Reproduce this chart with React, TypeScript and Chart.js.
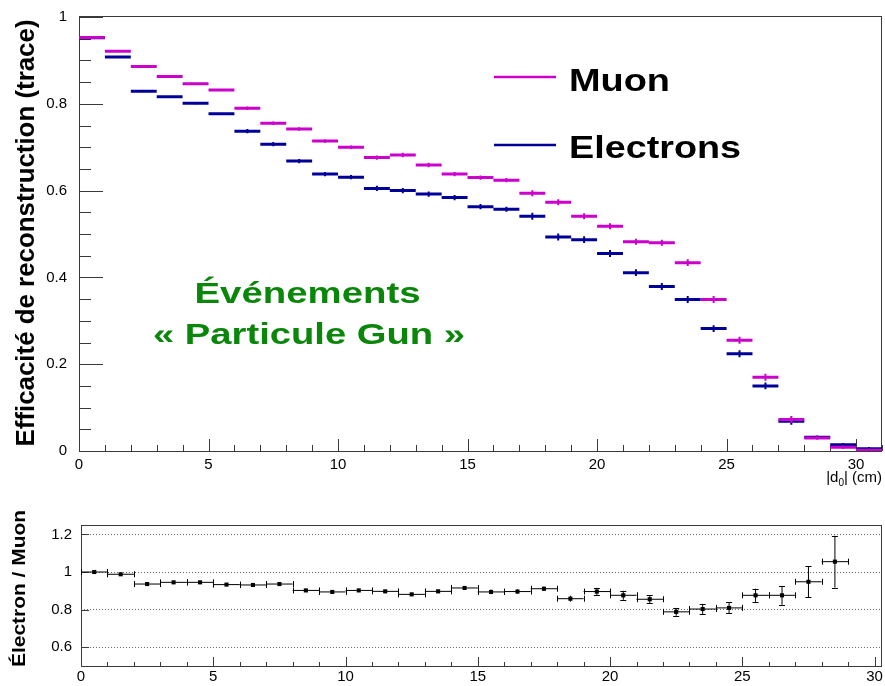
import React, { useEffect, useRef } from "react";
import { Chart, registerables } from "chart.js";

Chart.register(...registerables);

// ---------- data ----------
const binEdges = [0, 1, 2, 3, 4, 5, 6, 7, 8, 9, 10, 11, 12, 13, 14, 15, 16, 17, 18, 19, 20, 21, 22, 23, 24, 25, 26, 27, 28, 29, 30, 31];

const muonEff = [
  0.953, 0.921, 0.886, 0.863, 0.846, 0.832, 0.79, 0.755, 0.742, 0.714, 0.7,
  0.676, 0.682, 0.659, 0.638, 0.63, 0.624, 0.594, 0.573, 0.541, 0.518,
  0.482, 0.48, 0.434, 0.349, 0.255, 0.17, 0.0725, 0.03, 0.0085, 0.002,
];
const muonErr = [
  0.002, 0.002, 0.002, 0.002, 0.002, 0.002, 0.004, 0.004, 0.004, 0.004, 0.004,
  0.005, 0.005, 0.005, 0.005, 0.005, 0.005, 0.007, 0.007, 0.007, 0.007,
  0.007, 0.007, 0.008, 0.008, 0.008, 0.008, 0.008, 0.004, 0.004, 0.004,
];
const electronEff = [
  0.952, 0.908, 0.829, 0.816, 0.801, 0.777, 0.737, 0.707, 0.668, 0.638, 0.631,
  0.605, 0.6, 0.592, 0.584, 0.563, 0.557, 0.541, 0.493, 0.487, 0.455,
  0.411, 0.379, 0.349, 0.282, 0.224, 0.15, 0.0687, 0.0317, 0.0145, 0.005,
];
const electronErr = [
  0.002, 0.002, 0.002, 0.002, 0.002, 0.002, 0.005, 0.005, 0.005, 0.005, 0.005,
  0.006, 0.006, 0.006, 0.006, 0.006, 0.006, 0.008, 0.008, 0.008, 0.008,
  0.008, 0.008, 0.008, 0.008, 0.008, 0.008, 0.008, 0.004, 0.004, 0.004,
];
const ratioVals = [
  1.0, 0.988, 0.936, 0.945, 0.945, 0.933, 0.931, 0.936, 0.902, 0.894, 0.902,
  0.897, 0.881, 0.897, 0.915, 0.894, 0.896, 0.911, 0.858, 0.896, 0.876,
  0.855, 0.788, 0.803, 0.809, 0.876, 0.876, 0.948, 1.055,
];
const ratioErr = [
  0.004, 0.005, 0.006, 0.006, 0.006, 0.006, 0.007, 0.007, 0.008, 0.008, 0.008,
  0.008, 0.009, 0.009, 0.01, 0.012, 0.012, 0.012, 0.016, 0.02, 0.024,
  0.021, 0.021, 0.027, 0.029, 0.035, 0.05, 0.082, 0.138,
];
const seriesNames = ["Muon", "Electrons"];
const annotationLines = ["Événements", "« Particule Gun »"];
const yTitleTop = "Efficacité de reconstruction (trace)";
const yTitleBottom = "Électron / Muon";

// ---------- styles ----------
const FONT = "'Liberation Sans', Arial, Helvetica, sans-serif";
const MAGENTA = "#cc00cc";
const NAVY = "#000099";
const GREEN = "#0a870a";
const FRAME = "#3a3a3a";

function center(i: number) {
  return (binEdges[i] + binEdges[i + 1]) / 2;
}
function histSteps(vals: number[]) {
  const pts: any[] = [];
  vals.forEach((v, i) => {
    pts.push({ x: binEdges[i], y: v }, { x: binEdges[i + 1], y: v }, { x: binEdges[i + 1], y: null });
  });
  return pts;
}
function vErrors(vals: number[], errs: number[]) {
  const pts: any[] = [];
  vals.forEach((v, i) => {
    const c = center(i);
    pts.push({ x: c, y: v - errs[i] }, { x: c, y: v + errs[i] }, { x: c, y: null });
  });
  return pts;
}

function stretchText(ctx: CanvasRenderingContext2D, text: string, x: number, y: number, font: string, targetW: number, align: CanvasTextAlign, rotate = false) {
  ctx.save();
  ctx.font = font;
  const w = ctx.measureText(text).width;
  const sx = targetW / w;
  ctx.translate(x, y);
  if (rotate) ctx.rotate(-Math.PI / 2);
  ctx.scale(sx, 1);
  ctx.textAlign = align;
  ctx.textBaseline = "alphabetic";
  ctx.fillText(text, 0, 0);
  ctx.restore();
}

function lineDs(data: any[], color: string, width: number) {
  return {
    type: "line" as const,
    data,
    borderColor: color,
    backgroundColor: color,
    borderWidth: width,
    pointRadius: 0,
    pointHoverRadius: 0,
    spanGaps: false,
    tension: 0,
    fill: false,
    borderCapStyle: "butt" as const,
  };
}

const tickFont = { family: FONT, size: 15 };
const fmt = (v: any) => String(Math.round(Number(v) * 100) / 100);

export default function App() {
  const topRef = useRef<HTMLCanvasElement>(null);
  const botRef = useRef<HTMLCanvasElement>(null);

  useEffect(() => {
    const topDecor = {
      id: "topDecor",
      beforeDatasetsDraw(chart: any) {
        const { ctx, chartArea: a, scales } = chart;
        const x = scales.x, y = scales.y;
        ctx.save();
        ctx.strokeStyle = FRAME;
        ctx.lineWidth = 1;
        ctx.strokeRect(Math.round(a.left) + 0.5, Math.round(a.top) - 0.5, Math.round(a.right - a.left) - 1, Math.round(a.bottom - a.top) + 1);
        ctx.beginPath();
        for (let v = 0; v <= 31; v++) {
          const px = Math.round(x.getPixelForValue(v)) + 0.5;
          const len = v % 5 === 0 ? 12 : 6;
          ctx.moveTo(px, a.bottom);
          ctx.lineTo(px, a.bottom - len);
        }
        for (let k = 0; k <= 20; k++) {
          const py = Math.round(y.getPixelForValue(k * 0.05)) + 0.5;
          const len = k % 4 === 0 ? 24 : 12;
          ctx.moveTo(a.left, py);
          ctx.lineTo(a.left + len, py);
        }
        ctx.stroke();
        ctx.restore();
      },
      afterDraw(chart: any) {
        const { ctx } = chart;
        ctx.save();
        // legend
        ctx.lineWidth = 2.5;
        ctx.strokeStyle = MAGENTA;
        ctx.beginPath();
        ctx.moveTo(494, 77);
        ctx.lineTo(556, 77);
        ctx.stroke();
        ctx.strokeStyle = NAVY;
        ctx.beginPath();
        ctx.moveTo(494, 145);
        ctx.lineTo(556, 145);
        ctx.stroke();
        ctx.fillStyle = "#000";
        stretchText(ctx, seriesNames[0], 569, 91, `bold 32px ${FONT}`, 101, "left");
        stretchText(ctx, seriesNames[1], 569, 158, `bold 32px ${FONT}`, 172, "left");
        // annotation
        ctx.fillStyle = GREEN;
        stretchText(ctx, annotationLines[0], 307.5, 303, `bold 30px ${FONT}`, 226, "center");
        stretchText(ctx, annotationLines[1], 309, 344, `bold 30px ${FONT}`, 312, "center");
        // y title
        ctx.fillStyle = "#000";
        stretchText(ctx, yTitleTop, 34, 233, `bold 25px ${FONT}`, 427, "center", true);
        // x title |d0| (cm)
        ctx.font = `15px ${FONT}`;
        ctx.textBaseline = "alphabetic";
        ctx.textAlign = "left";
        const p1 = "|d";
        const p3 = "| (cm)";
        const w1 = ctx.measureText(p1).width;
        const w3 = ctx.measureText(p3).width;
        ctx.font = `10px ${FONT}`;
        const w2 = ctx.measureText("0").width;
        const right = 882;
        const x0 = right - (w1 + w2 + w3);
        ctx.font = `15px ${FONT}`;
        ctx.fillText(p1, x0, 482);
        ctx.font = `10px ${FONT}`;
        ctx.fillText("0", x0 + w1, 486);
        ctx.font = `15px ${FONT}`;
        ctx.fillText(p3, x0 + w1 + w2, 482);
        ctx.restore();
      },
    };

    const top = new Chart(topRef.current!, {
      type: "line",
      data: {
        datasets: [
          lineDs(histSteps(muonEff), MAGENTA, 3),
          lineDs(vErrors(muonEff, muonErr), MAGENTA, 2),
          lineDs(histSteps(electronEff), NAVY, 3),
          lineDs(vErrors(electronEff, electronErr), NAVY, 2),
        ],
      },
      options: {
        animation: false,
        responsive: false,
        maintainAspectRatio: false,
        devicePixelRatio: 1,
        layout: { padding: { top: 17, right: 3, left: 0, bottom: 0 } },
        plugins: { legend: { display: false }, tooltip: { enabled: false } },
        events: [],
        scales: {
          x: {
            type: "linear",
            min: 0,
            max: 31,
            grid: { display: false },
            border: { display: false },
            ticks: { stepSize: 5, includeBounds: false, autoSkip: false, maxRotation: 0, font: tickFont, color: "#000", padding: -3, callback: fmt },
            afterFit: (s: any) => { s.height = 49; },
          },
          y: {
            type: "linear",
            min: 0,
            max: 1,
            grid: { display: false },
            border: { display: false },
            ticks: { stepSize: 0.2, includeBounds: false, autoSkip: false, font: tickFont, color: "#000", padding: 4, callback: fmt },
            afterFit: (s: any) => { s.width = 79; },
          },
        },
      } as any,
      plugins: [topDecor],
    });

    const botDecor = {
      id: "botDecor",
      beforeDatasetsDraw(chart: any) {
        const { ctx, chartArea: a, scales } = chart;
        const x = scales.x, y = scales.y;
        ctx.save();
        ctx.strokeStyle = FRAME;
        ctx.lineWidth = 1;
        ctx.strokeRect(Math.round(a.left) + 0.5, Math.round(a.top) + 0.5, Math.round(a.right - a.left) - 1, Math.round(a.bottom - a.top));
        ctx.beginPath();
        for (let v = 0; v <= 30; v++) {
          const px = Math.round(x.getPixelForValue(v)) + 0.5;
          const len = v % 5 === 0 ? 9 : 4;
          ctx.moveTo(px, a.bottom);
          ctx.lineTo(px, a.bottom - len);
        }
        for (let k = 3; k <= 6; k++) {
          const py = Math.round(y.getPixelForValue(k * 0.2)) + 0.5;
          ctx.moveTo(a.left, py);
          ctx.lineTo(a.left + 8, py);
        }
        ctx.stroke();
        ctx.restore();
      },
      afterDatasetsDraw(chart: any) {
        const { ctx, scales } = chart;
        const x = scales.x, y = scales.y;
        ctx.save();
        ctx.strokeStyle = "#000";
        ctx.lineWidth = 1;
        ctx.beginPath();
        ratioVals.forEach((v, i) => {
          const py = y.getPixelForValue(v);
          const xl = Math.round(x.getPixelForValue(binEdges[i])) + 0.5;
          const xr = Math.round(x.getPixelForValue(binEdges[i + 1])) + 0.5;
          ctx.moveTo(xl, py - 3); ctx.lineTo(xl, py + 3);
          ctx.moveTo(xr, py - 3); ctx.lineTo(xr, py + 3);
          const pc = x.getPixelForValue(center(i));
          const pt = Math.round(y.getPixelForValue(v + ratioErr[i])) + 0.5;
          const pb = Math.round(y.getPixelForValue(v - ratioErr[i])) + 0.5;
          if (pb - pt > 6) {
            ctx.moveTo(pc - 3, pt); ctx.lineTo(pc + 3, pt);
            ctx.moveTo(pc - 3, pb); ctx.lineTo(pc + 3, pb);
          }
        });
        ctx.stroke();
        ctx.restore();
      },
      afterDraw(chart: any) {
        const { ctx } = chart;
        ctx.save();
        ctx.fillStyle = "#000";
        stretchText(ctx, yTitleBottom, 25, 88.5, `bold 19px ${FONT}`, 157, "center", true);
        ctx.restore();
      },
    };

    const hBars: any[] = [];
    ratioVals.forEach((v, i) => {
      hBars.push({ x: binEdges[i], y: v }, { x: binEdges[i + 1], y: v }, { x: binEdges[i + 1], y: null });
    });

    const bot = new Chart(botRef.current!, {
      type: "line",
      data: {
        datasets: [
          lineDs(hBars, "#000", 1),
          lineDs(vErrors(ratioVals, ratioErr), "#000", 1),
          {
            type: "scatter",
            data: ratioVals.map((v, i) => ({ x: center(i), y: v })),
            pointStyle: "rect",
            pointRadius: 2.9,
            pointHoverRadius: 2.9,
            backgroundColor: "#000",
            borderColor: "#000",
            borderWidth: 0,
            showLine: false,
          },
        ],
      },
      options: {
        animation: false,
        responsive: false,
        maintainAspectRatio: false,
        devicePixelRatio: 1,
        layout: { padding: { top: 25, right: 3, left: 0, bottom: 0 } },
        plugins: { legend: { display: false }, tooltip: { enabled: false } },
        events: [],
        scales: {
          x: {
            type: "linear",
            min: 0,
            max: 30.28,
            grid: { display: false },
            border: { display: false },
            ticks: { stepSize: 5, includeBounds: false, autoSkip: false, maxRotation: 0, font: tickFont, color: "#000", padding: -6, callback: fmt },
            afterFit: (s: any) => { s.height = 20; },
          },
          y: {
            type: "linear",
            min: 0.5,
            max: 1.25,
            grid: { display: true, drawTicks: false, color: "#666", lineWidth: 1, borderDash: [1, 2] },
            border: { display: false, dash: [1, 2] },
            ticks: { stepSize: 0.2, includeBounds: false, autoSkip: false, font: tickFont, color: "#000", padding: 9, callback: fmt },
            afterFit: (s: any) => { s.width = 81; },
          },
        },
      } as any,
      plugins: [botDecor],
    });

    return () => {
      top.destroy();
      bot.destroy();
    };
  }, []);

  return (
    <div style={{ position: "absolute", left: 0, top: 0, width: 885, height: 686, background: "#fff" }}>
      <canvas ref={topRef} width={885} height={500} style={{ position: "absolute", left: 0, top: 0, width: 885, height: 500 }} />
      <canvas ref={botRef} width={885} height={186} style={{ position: "absolute", left: 0, top: 500, width: 885, height: 186 }} />
    </div>
  );
}
